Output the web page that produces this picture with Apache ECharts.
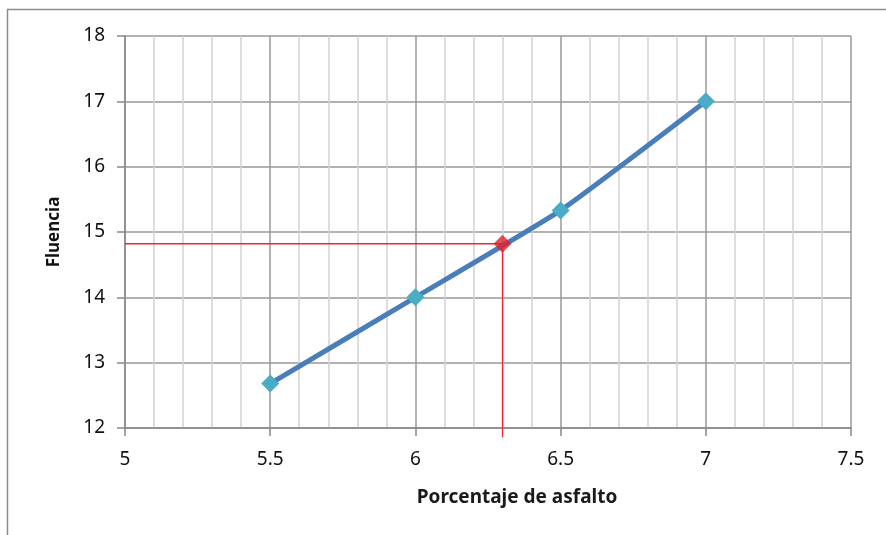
<!DOCTYPE html>
<html><head><meta charset="utf-8">
<script src="https://cdn.jsdelivr.net/npm/echarts@6/dist/echarts.min.js"></script>
<style>html,body{margin:0;padding:0;background:#fff}#c{width:886px;height:535px}</style>
</head><body><div id="c"></div>
<script>
var asphaltPct = [5.5, 6.0, 6.5, 7.0];
var fluencia = [12.68, 14.0, 15.33, 17.0];
var optimumPct = 6.3;
var optimumFluencia = 14.82;
var xTicks = [5, 5.5, 6, 6.5, 7, 7.5];
var yTicks = [12, 13, 14, 15, 16, 17, 18];
var guideBottom = 11.86;

var chart = echarts.init(document.getElementById('c'));
var font = '"Noto Sans", "DejaVu Sans", sans-serif';
chart.setOption({
  animation: false,
  graphic: [{type:'rect', shape:{x:7.5,y:9.5,width:900,height:600}, style:{fill:'none', stroke:'#8c8c8c', lineWidth:1.5}}],
  grid: {left:125, right:35, top:36, bottom:107},
  xAxis: {
    type:'value', min:xTicks[0], max:xTicks[xTicks.length-1], interval:0.5,
    name:'Porcentaje de asfalto', nameLocation:'middle', nameGap:60,
    nameTextStyle:{fontFamily:font, fontSize:19, fontWeight:'bold', color:'#1a1a1a', padding:[0,0,0,58]},
    axisLine:{show:true, lineStyle:{color:'#888', width:1.5}},
    axisTick:{show:true, length:8, lineStyle:{color:'#888', width:1.5}},
    axisLabel:{fontFamily:font, fontSize:19, color:'#111', margin:22},
    splitLine:{show:true, lineStyle:{color:'#999', width:1.5}},
    minorTick:{show:false, splitNumber:5},
    minorSplitLine:{show:true, lineStyle:{color:'#d2d2d2', width:1.5}}
  },
  yAxis: {
    type:'value', min:yTicks[0], max:yTicks[yTicks.length-1], interval:1,
    name:'Fluencia', nameLocation:'middle', nameGap:62,
    nameTextStyle:{fontFamily:font, fontSize:17, fontWeight:'bold', color:'#111'},
    axisLine:{show:true, lineStyle:{color:'#888', width:1.5}},
    axisTick:{show:true, length:8, lineStyle:{color:'#888', width:1.5}},
    axisLabel:{fontFamily:font, fontSize:19, color:'#111', margin:20},
    splitLine:{show:true, lineStyle:{color:'#999', width:1.5}}
  },
  series: [
    {
      type:'line', clip:false, z:2,
      data:[[xTicks[0], optimumFluencia],[optimumPct, optimumFluencia],[optimumPct, guideBottom]],
      symbol:'none', lineStyle:{color:'#f0242e', width:1.3}
    },
    {
      type:'line', z:3, smooth:0.15,
      data: asphaltPct.map(function(x,i){return [x, fluencia[i]];}),
      symbol:'diamond', symbolSize:18,
      itemStyle:{color:'#4bacc6'},
      lineStyle:{color:'#4a7ebb', width:5}
    },
    {
      type:'scatter', z:4,
      data:[[optimumPct, optimumFluencia]],
      symbol:'diamond', symbolSize:18,
      itemStyle:{color:'#e0202a'}
    }
  ]
});
</script></body></html>
